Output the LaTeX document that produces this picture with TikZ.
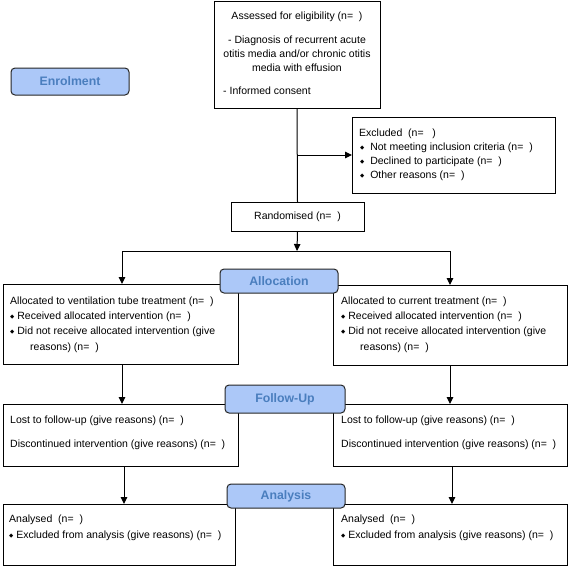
\documentclass[tikz,border=0pt]{standalone}
\usepackage{fontspec}
\setmainfont{Liberation Sans}
\newfontfamily\dejavu{DejaVu Sans}
\usetikzlibrary{arrows.meta}
\definecolor{lblfill}{RGB}{172,200,248}
\definecolor{lbltext}{RGB}{74,126,190}
\newcommand{\dm}{{\dejavu\fontsize{5.5}{6}\selectfont\raisebox{0.8pt}{◆}}}
\begin{document}
\begin{tikzpicture}[x=1pt,y=-1pt,
  box/.style={draw=black, line width=1pt, anchor=north west, inner sep=0pt, outer sep=0pt},
  lbl/.style={draw=black!85, line width=1pt, rounded corners=4pt, fill=lblfill, anchor=north west, inner sep=0pt, outer sep=0pt, font=\fontsize{12.3}{14}\selectfont\bfseries, text=lbltext},
  txt/.style={anchor=base west, inner sep=0pt, font=\fontsize{10.5}{12}\selectfont},
  ctxt/.style={anchor=base, inner sep=0pt, font=\fontsize{10.5}{12}\selectfont},
  arr/.style={line width=1pt, -{Triangle[length=7pt,width=6.5pt]}},
  ln/.style={line width=1pt}]
\fill[white] (0,0) rectangle (568,566);
\useasboundingbox (0,0) rectangle (568,566);

% boxes
\node[box, minimum width=166pt, minimum height=107pt] (assess) at (214,1) {};
\node[box, minimum width=203pt, minimum height=76pt] (excl) at (352,117) {};
\node[box, minimum width=133pt, minimum height=29pt] (rand) at (231,202) {};
\node[box, minimum width=235pt, minimum height=80pt] (allocL) at (3,284) {};
\node[box, minimum width=234pt, minimum height=80pt] (allocR) at (333,285) {};
\node[box, minimum width=235pt, minimum height=62pt] (fuL) at (3,404) {};
\node[box, minimum width=234pt, minimum height=62pt] (fuR) at (333,404) {};
\node[box, minimum width=232pt, minimum height=61pt] (anL) at (3,504) {};
\node[box, minimum width=234pt, minimum height=61pt] (anR) at (333,504) {};

% connectors
\coordinate (jx) at (297,155);
\coordinate (sL) at (122,251);
\coordinate (sM) at (297,251);
\coordinate (sR) at (450,251);
\draw[ln] (assess.south) -- (rand.north);
\draw[arr] (jx) -- (excl.west);
\draw[arr] (rand.south) -- (sM);
\draw[ln] (sL) -- (sR);
\draw[arr] (sL) -- (sL |- allocL.north);
\draw[arr] (sR) -- (sR |- allocR.north);
\draw[arr] (sL |- allocL.south) -- (sL |- fuL.north);
\draw[arr] (sR |- allocR.south) -- (sR |- fuR.north);
\coordinate (aL) at (124,0);
\coordinate (aR) at (452,0);
\draw[arr] (aL |- fuL.south) -- (aL |- anL.north);
\draw[arr] (aR |- fuR.south) -- (aR |- anR.north);

% stage labels
\node[lbl, minimum width=118pt, minimum height=27pt] (enrol) at (11,68) {Enrolment};
\node[lbl, minimum width=118pt, minimum height=24pt] (alloc) at (220,269) {Allocation};
\node[lbl, minimum width=120pt, minimum height=28pt] (follow) at (225,385) {Follow-Up};
\node[lbl, minimum width=118pt, minimum height=24pt] (analysis) at (227,484) {Analysis};

% texts: assessed
\node[ctxt] (t1) at (297,19) {Assessed for eligibility (n=\ \ )};
\node[ctxt] (t2) at (297,43) {- Diagnosis of recurrent acute};
\node[ctxt] (t3) at (297,57) {otitis media and/or chronic otitis};
\node[ctxt] (t4) at (297,71) {media with effusion};
\node[txt] (t5) at (223,94) {- Informed consent};
% excluded
\node[txt] (e1) at (359,136) {Excluded\ \ (n=\ \ \ )};
\node[txt] (e2) at (360,150) {\dm\ \ Not meeting inclusion criteria (n=\ \ )};
\node[txt] (e3) at (360,164) {\dm\ \ Declined to participate (n=\ \ )};
\node[txt] (e4) at (360,178) {\dm\ \ Other reasons (n=\ \ )};
% randomised
\node[ctxt] (r1) at (rand.center) [anchor=center] {Randomised (n=\ \ )};
% allocation left
\node[txt] (l1) at (10,304) {Allocated to ventilation tube treatment (n=\ \ )};
\node[txt] (l2) at (10,319) {\dm\ Received allocated intervention (n=\ \ )};
\node[txt] (l3) at (10,334) {\dm\ Did not receive allocated intervention (give};
\node[txt] (l4) at (30,350) {reasons) (n=\ \ )};
% allocation right
\node[txt] (m1) at (341,304) {Allocated to current treatment (n=\ \ )};
\node[txt] (m2) at (341,319) {\dm\ Received allocated intervention (n=\ \ )};
\node[txt] (m3) at (341,334) {\dm\ Did not receive allocated intervention (give};
\node[txt] (m4) at (360,350) {reasons) (n=\ \ )};
% follow-up
\node[txt] (f1) at (10,423) {Lost to follow-up (give reasons) (n=\ \ )};
\node[txt] (f2) at (10,447) {Discontinued intervention (give reasons) (n=\ \ )};
\node[txt] (g1) at (341,423) {Lost to follow-up (give reasons) (n=\ \ )};
\node[txt] (g2) at (341,447) {Discontinued intervention (give reasons) (n=\ \ )};
% analysis
\node[txt] (a1) at (9,522) {Analysed\ \ (n=\ \ )};
\node[txt] (a2) at (9,538) {\dm\ Excluded from analysis (give reasons) (n=\ \ )};
\node[txt] (b1) at (341,522) {Analysed\ \ (n=\ \ )};
\node[txt] (b2) at (341,538) {\dm\ Excluded from analysis (give reasons) (n=\ \ )};
\end{tikzpicture}
\end{document}
